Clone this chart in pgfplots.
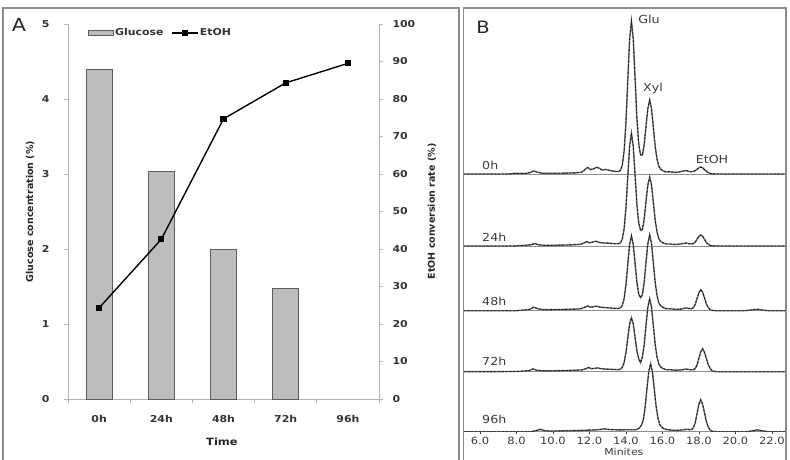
\documentclass[border=0pt]{standalone}
\usepackage{pgfplots}
\pgfplotsset{compat=1.18}
\usepackage{pgfplotstable}
\usepackage{fontspec}
\setmainfont{DejaVu Sans}
\newfontfamily\widefont{DejaVu Sans}[FakeStretch=1.15]

\definecolor{framegray}{HTML}{8C8C8C}
\definecolor{axisgray}{HTML}{B4B4B4}
\definecolor{barfill}{HTML}{BDBDBD}
\definecolor{baredge}{HTML}{5C5C5C}
\definecolor{trace}{HTML}{6A6A6A}
\definecolor{sepgray}{HTML}{8E8E8E}
\definecolor{txt}{HTML}{3A3A3A}

% HPLC traces: retention time (min) and signal above each baseline
\pgfplotstableread{
t h
5.10 0
7.60 0
7.90 0.6
8.50 0.6
8.75 1.5
8.95 3.0
9.15 1.8
9.40 0.8
10.50 0.8
11.30 1.2
11.60 2.0
11.75 4.5
11.90 6.5
12.05 4.5
12.20 5.0
12.40 6.8
12.55 5.5
12.70 4.0
12.90 4.5
13.10 3.6
13.30 3.0
13.50 2.5
13.6 2.5
13.7 3.8
13.8 8.8
13.9 23.1
14.0 51.8
14.1 94.1
14.2 134.9
14.3 153
14.4 134.9
14.5 95.6
14.6 55.6
14.7 29.9
14.8 19.1
14.9 18.8
15.0 29.5
15.1 48.1
15.2 65.4
15.3 74
15.4 65.4
15.5 46.6
15.6 27.9
15.7 15
15.8 7.8
15.9 4.9
16.0 3.4
16.1 2.7
16.2 2.0
16.40 2.2
16.70 1.6
16.90 2.0
17.10 2.8
17.30 3.5
17.45 2.5
17.6 2.2
17.7 2.6
17.8 3.4
17.9 4.8
18.0 6.2
18.1 7.0
18.2 6.2
18.3 4.5
18.4 2.8
18.5 1.5
18.6 0.7
18.7 0.3
18.9 0
22.77 0
}\trA

\pgfplotstableread{
t h
5.10 0
7.80 0
8.30 0.5
8.80 1.2
9.00 2.5
9.20 1.2
9.60 0.6
10.80 1.0
11.50 1.6
11.70 3.0
11.85 4.5
12.00 3.2
12.20 4.0
12.35 4.8
12.55 3.5
12.80 3.0
13.10 2.8
13.40 2.3
13.6 2.3
13.7 3.3
13.8 7.0
13.9 17.5
14.0 38.6
14.1 69.7
14.2 99.7
14.3 113
14.4 99.7
14.5 70.8
14.6 41.6
14.7 22.9
14.8 15.6
14.9 16.5
15.0 27.0
15.1 44.6
15.2 61
15.3 69
15.4 61
15.5 43.5
15.6 26.1
15.7 14.1
15.8 7.4
15.9 4.7
16.0 3.3
16.1 2.7
16.2 2.0
16.40 2.0
16.70 1.5
17.00 2.0
17.30 3.0
17.45 2.3
17.6 2.0
17.7 2.6
17.8 4.0
17.9 7.0
18.0 9.6
18.1 11
18.2 9.7
18.3 6.8
18.4 3.7
18.5 1.8
18.6 0.7
18.7 0.2
18.9 0
22.77 0
}\trB

\pgfplotstableread{
t h
5.10 0
8.00 0
8.70 1.2
8.95 3.5
9.15 2.0
9.50 1.0
10.50 1.2
11.50 1.8
11.75 3.5
11.90 4.8
12.05 3.5
12.25 4.0
12.40 4.5
12.60 3.5
12.90 3.0
13.20 2.6
13.40 2.3
13.6 2.2
13.7 2.9
13.8 5.3
13.9 12.2
14.0 26.1
14.1 46.5
14.2 66.2
14.3 75
14.4 66.2
14.5 47.3
14.6 28.3
14.7 16.6
14.8 13.0
14.9 16.0
15.0 28.7
15.1 48.6
15.2 67.1
15.3 76
15.4 67.1
15.5 47.9
15.6 28.6
15.7 15.3
15.8 7.9
15.9 5.0
16.0 3.5
16.1 2.7
16.2 2.0
16.40 2.0
16.70 1.4
17.00 1.6
17.30 2.8
17.45 2.2
17.6 2.0
17.7 3.1
17.8 6.5
17.9 12.5
18.0 18.2
18.1 21
18.2 18.5
18.3 13.0
18.4 7.1
18.5 3.4
18.6 1.3
18.7 0.4
18.9 0
20.50 0
20.90 0.8
21.20 1.5
21.50 0.6
21.80 0
22.77 0
}\trC

\pgfplotstableread{
t h
5.10 0
8.00 0.2
8.70 1.0
8.90 2.8
9.10 1.5
9.50 0.8
10.80 1.2
11.60 1.8
11.80 3.0
11.95 4.2
12.10 3.0
12.30 3.4
12.45 3.8
12.65 3.0
12.90 2.6
13.20 2.4
13.45 2.2
13.6 2.1
13.7 2.6
13.8 4.3
13.9 9.3
14.0 19.2
14.1 33.7
14.2 47.8
14.3 54
14.4 47.8
14.5 34.2
14.6 20.9
14.7 12.9
14.8 9.0
14.9 14.8
15.0 27.1
15.1 46.5
15.2 64.5
15.3 73
15.4 64.5
15.5 46
15.6 27.6
15.7 14.8
15.8 7.7
15.9 4.8
16.0 3.4
16.1 2.7
16.2 2.0
16.40 2.0
16.70 1.5
17.00 1.8
17.30 2.6
17.50 2.0
17.7 2.0
17.8 3.3
17.9 7.0
18.0 13.6
18.1 19.9
18.2 23
18.3 19.4
18.4 13.6
18.5 7.5
18.6 3.5
18.7 1.3
18.8 0.4
19.0 0
22.77 0
}\trD

\pgfplotstableread{
t h
5.10 0
8.80 0
9.10 1.2
9.30 2.4
9.50 1.2
9.80 0.6
11.00 1.0
12.00 1.6
12.50 2.0
12.80 2.8
13.10 2.2
13.60 1.8
14.20 2.0
14.55 2.0
14.65 2.7
14.75 4.0
14.85 6.6
14.95 11.9
15.05 24.4
15.15 42.9
15.25 60.1
15.35 68
15.45 60.1
15.55 42.9
15.65 25.8
15.75 13.9
15.85 7.3
15.95 4.6
16.05 3.3
16.15 2.7
16.25 2.0
16.50 1.6
16.80 1.3
17.10 1.8
17.35 2.5
17.50 2.0
17.6 2.3
17.7 4.0
17.8 9.3
17.9 18.5
18.0 27.7
18.1 32
18.2 27.3
18.3 19.2
18.4 10.5
18.5 5.0
18.6 1.9
18.7 0.6
18.9 0
20.60 0
20.90 0.8
21.20 1.8
21.50 0.8
21.80 0
22.77 0
}\trE

\pgfplotsset{
  panelA/.style={
    at={(68pt,60pt)}, anchor=south west, scale only axis,
    width=311pt, height=375pt,
    xmin=-0.5, xmax=4.5,
    /pgf/number format/assume math mode=true,
    axis line style={draw=axisgray, line width=0.9pt},
    tick style={draw=axisgray, line width=0.9pt},
    tick align=outside, major tick length=4pt, minor tick length=4pt,
    ticklabel style={font=\widefont\bfseries\fontsize{9.5}{10}\selectfont, text=black!80},
    label style={font=\bfseries\fontsize{9.5}{11}\selectfont, text=black!85},
  },
  barlegend/.style={legend image code/.code={%
    \draw[fill=barfill,draw=baredge,line width=0.6pt] (0pt,-2.5pt) rectangle (25pt,2.5pt);}},
  linelegend/.style={legend image code/.code={%
    \draw[black,line width=1.4pt,mark=square*,mark size=2.4pt,mark repeat=2,mark phase=2]
      plot coordinates {(0pt,0pt) (13pt,0pt) (26pt,0pt)};}},
}

\begin{document}
\begin{tikzpicture}
\useasboundingbox (0pt,0pt) rectangle (790pt,459pt);
\clip (0pt,0pt) rectangle (790pt,459pt);

% ---------- Panel A: glucose bars and ethanol conversion line ----------
\begin{axis}[panelA,
  ymin=0, ymax=5, ytick={0,1,2,3,4,5},
  axis x line*=bottom, axis y line*=left,
  xtick={0,1,2,3,4}, xticklabels={0h,24h,48h,72h,96h},
  minor xtick={-0.5,0.5,1.5,2.5,3.5,4.5},
  major x tick style={draw=none},
  yticklabel style={xshift=-11pt},
  xticklabel style={yshift=-9pt},
  ylabel={Glucose concentration (\%)},
  ylabel style={at={(axis description cs:-0.122,0.5)}, anchor=center},
  xlabel={Time},
  xlabel style={at={(axis description cs:0.495,-0.115)}, anchor=center, font=\widefont\bfseries\fontsize{10}{11}\selectfont},
]
\addplot[ybar, bar width=26pt, fill=barfill, draw=baredge, line width=0.8pt]
  coordinates {(0,4.39) (1,3.04) (2,2.00) (3,1.47)};
\end{axis}

\begin{axis}[panelA,
  ymin=0, ymax=100, ytick={0,10,...,100},
  axis y line*=right, axis x line=none,
  yticklabel style={xshift=6pt},
  ylabel={EtOH conversion rate (\%)},
  ylabel style={at={(axis description cs:1.170,0.5)}, anchor=center},
  legend style={at={(axis description cs:0.064,0.976)}, anchor=west,
    draw=none, fill=none, inner sep=0pt,
    font=\widefont\bfseries\fontsize{9.5}{10}\selectfont, text=black!80,
    nodes={inner sep=1.5pt},
    /tikz/every even column/.append style={column sep=6pt}},
  legend columns=2, legend cell align=left,
]
\addlegendimage{barlegend}
\addlegendentry{Glucose}
\addplot[black, line width=1.4pt, mark=square*, mark size=2.4pt, linelegend]
  coordinates {(0,24.3) (1,42.6) (2,74.7) (3,84.3) (4,89.5)};
\addlegendentry{EtOH}
\end{axis}

% ---------- Panel B: stacked chromatograms ----------
\begin{axis}[
  at={(463pt,27.3pt)}, anchor=south west, scale only axis,
  width=323pt, height=423.7pt,
  xmin=5.07, xmax=22.77, ymin=0, ymax=423.7,
  axis x line*=bottom, axis y line=none, ytick=\empty,
  axis line style={draw=sepgray, line width=1pt},
  xtick={6,8,...,22},
  xticklabel={\pgfmathprintnumber[fixed,fixed zerofill,precision=1]{\tick}},
  /pgf/number format/assume math mode=true,
  tick align=outside, major tick length=2.5pt,
  tick style={draw=txt, line width=0.8pt},
  ticklabel style={font=\widefont\fontsize{10}{10}\selectfont, text=txt},
  xticklabel style={yshift=0.5pt},
  xlabel={Minites},
  xlabel style={at={(axis description cs:0.498,-0.047)}, anchor=center, font=\widefont\fontsize{9.5}{10}\selectfont, text=txt},
  trace/.style={draw=black!90, line width=0.8pt, dash pattern=on 2.4pt off 1.4pt,
    preaction={draw=trace, line width=1.4pt, solid}},
]
\foreach \b in {60,121,185.7,257.7}{
  \edef\tmp{\noexpand\draw[sepgray, line width=1pt] (axis cs:5.07,\b) -- (axis cs:22.77,\b);}\tmp
}
\addplot[trace] table[x=t, y expr=\thisrow{h}+257.7] {\trA};
\addplot[trace] table[x=t, y expr=\thisrow{h}+185.7] {\trB};
\addplot[trace] table[x=t, y expr=\thisrow{h}+121] {\trC};
\addplot[trace] table[x=t, y expr=\thisrow{h}+60] {\trD};
\addplot[trace] table[x=t, y expr=\thisrow{h}] {\trE};
\end{axis}

% panel frames
\draw[framegray, line width=1.5pt] (3pt,-5pt) -- (3pt,451pt) -- (459pt,451pt) -- (459pt,-5pt);
\draw[framegray, line width=1.5pt] (463.5pt,-5pt) -- (463.5pt,451pt) -- (786pt,451pt) -- (786pt,-5pt);

% panel letters
\node[font=\widefont\fontsize{18}{19}\selectfont, text=black!85] at (19pt,434pt) {A};
\node[font=\widefont\fontsize{17}{18}\selectfont, text=black!85] at (483pt,432pt) {B};

% peak and time labels
\begin{scope}[every node/.style={font=\widefont\fontsize{11}{12}\selectfont, text=txt, inner sep=0pt}]
\node at (649pt,440pt) {Glu};
\node at (653pt,371pt) {Xyl};
\node at (712pt,300pt) {EtOH};
\node[anchor=west] at (482pt,294pt) {0h};
\node[anchor=west] at (482pt,222pt) {24h};
\node[anchor=west] at (482pt,158pt) {48h};
\node[anchor=west] at (482pt,98pt) {72h};
\node[anchor=west] at (482pt,40pt) {96h};
\end{scope}
\end{tikzpicture}
\end{document}
